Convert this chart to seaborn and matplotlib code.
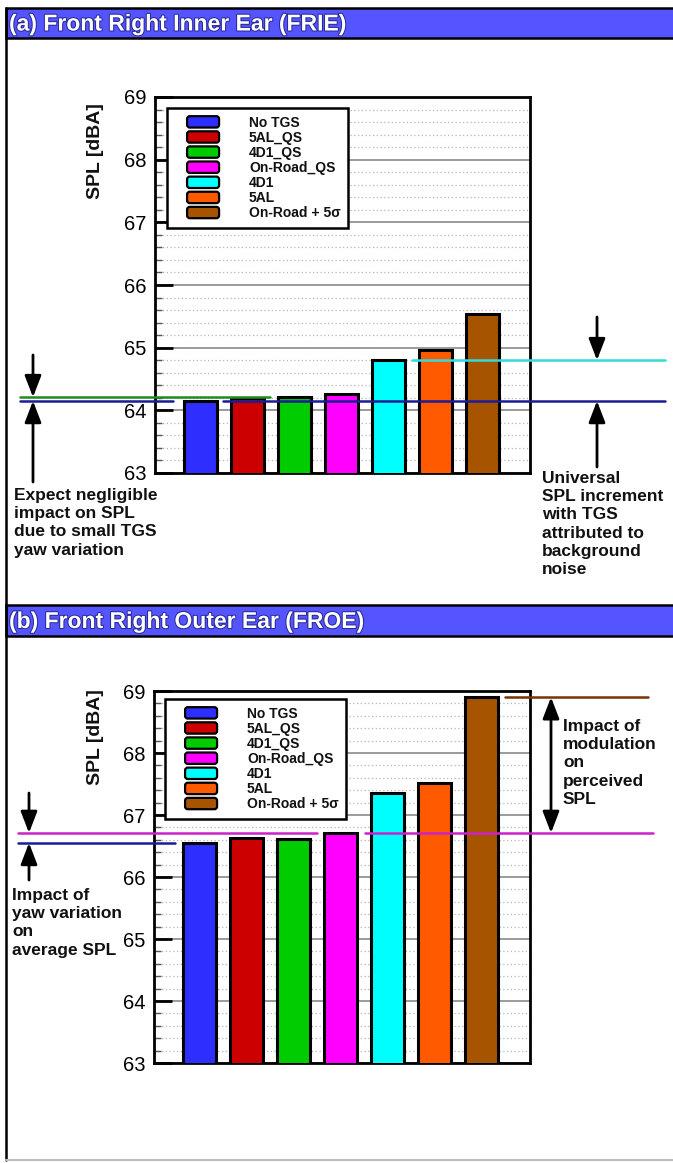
import matplotlib
matplotlib.use("Agg")
import numpy as np
import pandas as pd
import matplotlib.pyplot as plt
import seaborn as sns
from matplotlib.patches import Rectangle, Patch, FancyBboxPatch
from matplotlib.lines import Line2D
from matplotlib.legend_handler import HandlerBase
from matplotlib.transforms import blended_transform_factory
from matplotlib.ticker import MultipleLocator
import matplotlib.patheffects as pe

# ---- data -------------------------------------------------------------
configs = ["No TGS", "5AL_QS", "4D1_QS", "On-Road_QS", "4D1", "5AL", "On-Road + 5σ"]
bar_colors = ["#2E2EFF", "#CC0000", "#00CC00", "#FF00FF", "#00FFFF", "#FF5A00", "#A65400"]
spl_frie = [64.15, 64.19, 64.21, 64.26, 64.80, 64.97, 65.54]
spl_froe = [66.55, 66.63, 66.61, 66.71, 67.35, 67.52, 68.90]
y_ticks = [63, 64, 65, 66, 67, 68, 69]
panel_titles = ["(a) Front Right Inner Ear (FRIE)", "(b) Front Right Outer Ear (FROE)"]
note_frie_left = "Expect negligible\nimpact on SPL\ndue to small TGS\nyaw variation"
note_frie_right = "Universal\nSPL increment\nwith TGS\nattributed to\nbackground\nnoise"
note_froe_left = "Impact of\nyaw variation\non\naverage SPL"
note_froe_right = "Impact of\nmodulation\non\nperceived\nSPL"

# ---- figure setup -------------------------------------------------------
sns.set_theme(style="white")
plt.rcParams["font.family"] = ["Liberation Sans", "DejaVu Sans"]

W, H = 673, 1163
fig = plt.figure(figsize=(W / 100, H / 100), dpi=100)


def fx(px):
    return px / W


def fy(py):
    return 1 - py / H


palette = dict(zip(configs, bar_colors))


class SwatchHandler(HandlerBase):
    """Rounded colour swatch, inset from the left edge of the handle box."""

    def create_artists(self, legend, orig_handle, xdescent, ydescent,
                       width, height, fontsize, trans):
        inset = width * 0.28
        sw = width - inset
        sh = height * 0.95
        patch = FancyBboxPatch((inset - xdescent, -ydescent + (height - sh) / 2), sw, sh,
                               boxstyle="round,pad=0,rounding_size=2",
                               facecolor=orig_handle.get_facecolor(),
                               edgecolor="black", lw=1.6, transform=trans)
        return [patch]


def draw_panel(box, values, legend_xy):
    x0, y0, x1, y1 = box
    ax = fig.add_axes([fx(x0), fy(y1), (x1 - x0) / W, (y1 - y0) / H])
    df = pd.DataFrame({"config": configs, "spl": values})
    sns.barplot(data=df, x="config", y="spl", hue="config", palette=palette,
                order=configs, hue_order=configs, dodge=False, width=0.7,
                saturation=1, edgecolor="black", linewidth=2.2, legend=False,
                ax=ax, zorder=3)
    ax.set_ylim(63, 69)
    ax.set_xlim(-0.96, 7.02)
    ax.set_xticks([])
    ax.set_xlabel("")
    ax.set_ylabel("")
    ax.set_yticks(y_ticks)
    ax.yaxis.set_minor_locator(MultipleLocator(0.2))
    ax.grid(which="major", axis="y", color="#8a8a8a", lw=1.2, ls="-")
    ax.grid(which="minor", axis="y", color="#b5b5b5", lw=0.9, ls=(0, (1, 2)))
    ax.set_axisbelow(True)
    ax.tick_params(axis="y", which="major", direction="in", length=13, width=2,
                   color="black", labelsize=14.5, pad=6, left=True, labelcolor="black")
    ax.tick_params(axis="y", which="minor", direction="in", length=5, width=1,
                   color="#555555", left=True)
    for s in ax.spines.values():
        s.set_visible(True)
        s.set_color("black")
        s.set_linewidth(2)

    handles = [Patch(facecolor=c, edgecolor="black", label=l)
               for c, l in zip(bar_colors, configs)]
    leg = ax.legend(handles=handles, loc="upper left",
                    bbox_to_anchor=(fx(legend_xy[0]), fy(legend_xy[1])),
                    bbox_transform=fig.transFigure, frameon=True, fancybox=False,
                    edgecolor="black", framealpha=1,
                    prop={"weight": "bold", "size": 10},
                    handler_map={Patch: SwatchHandler()},
                    handlelength=3.2, handleheight=0.95, handletextpad=2.15,
                    labelspacing=0.08, borderpad=0.55, borderaxespad=0)
    leg.get_frame().set_linewidth(1.8)
    for t in leg.get_texts():
        t.set_color("#111111")
    leg.set_zorder(6)
    return ax


def hline(ax, value, xa, xb, color):
    tr = blended_transform_factory(fig.transFigure, ax.transData)
    ax.add_line(Line2D([fx(xa), fx(xb)], [value, value], transform=tr, color=color,
                       lw=1.8, clip_on=False, zorder=7))


ARROW = dict(color="black", lw=2, shrinkA=0, shrinkB=0, mutation_scale=20)


def arrow_to(ax, x, tail_py, value):
    tr = blended_transform_factory(fig.transFigure, ax.transData)
    ax.annotate("", xy=(fx(x), value), xycoords=tr,
                xytext=(fx(x), fy(tail_py)), textcoords="figure fraction",
                arrowprops=dict(arrowstyle="-|>,head_length=0.65,head_width=0.25", **ARROW),
                annotation_clip=False)


def arrow_between(ax, x, v_top, v_bot):
    tr = blended_transform_factory(fig.transFigure, ax.transData)
    ax.annotate("", xy=(fx(x), v_top), xycoords=tr,
                xytext=(fx(x), v_bot), textcoords=tr,
                arrowprops=dict(arrowstyle="<|-|>,head_length=0.65,head_width=0.25", **ARROW),
                annotation_clip=False)


def note(px, py, text):
    fig.text(fx(px), fy(py), text, ha="left", va="top", fontsize=12.5,
             weight="bold", color="#111111", linespacing=1.27)


def title_bar(py0, py1, text):
    fig.add_artist(Rectangle((fx(6), fy(py1)), fx(700) - fx(6), (py1 - py0) / H,
                             transform=fig.transFigure, facecolor="#5555FF",
                             edgecolor="black", lw=1.8, clip_on=False))
    fig.text(fx(9), fy((py0 + py1) / 2 + 1), text, ha="left", va="center",
             fontsize=16.5, weight="bold", color="white",
             path_effects=[pe.withStroke(linewidth=1.5, foreground="#2a2a9a")])


# ---- frame around both panels ------------------------------------------
fig.add_artist(Line2D([fx(6), fx(6)], [fy(8), fy(1160)], transform=fig.transFigure,
                      color="black", lw=1.8))
fig.add_artist(Line2D([fx(6), fx(673)], [fy(1160), fy(1160)], transform=fig.transFigure,
                      color="#bdbdbd", lw=1.5))

# ---- panel (a): inner ear ------------------------------------------------
title_bar(8, 38, panel_titles[0])
ax_a = draw_panel((155, 97, 530, 473), spl_frie, (167, 108))
fig.text(fx(95), fy(151), "SPL [dBA]", rotation=90, ha="center", va="center",
         fontsize=14, weight="bold", color="#111111")

hline(ax_a, spl_frie[2], 20, 270, "#1E8C1E")
hline(ax_a, spl_frie[0], 20, 173, "#1C1C96")
hline(ax_a, spl_frie[0], 223, 665, "#1C1C96")
hline(ax_a, spl_frie[4], 412, 665, "#30DCDC")
arrow_to(ax_a, 33, 355, spl_frie[2])
arrow_to(ax_a, 33, 482, spl_frie[0])
arrow_to(ax_a, 597, 317, spl_frie[4])
arrow_to(ax_a, 597, 467, spl_frie[0])
note(14, 488, note_frie_left)
note(542, 471, note_frie_right)

# ---- panel (b): outer ear ------------------------------------------------
title_bar(605, 636, panel_titles[1])
ax_b = draw_panel((154, 691, 530, 1063), spl_froe, (165, 699))
fig.text(fx(95), fy(737), "SPL [dBA]", rotation=90, ha="center", va="center",
         fontsize=14, weight="bold", color="#111111")

hline(ax_b, spl_froe[3], 18, 317, "#CC22CC")
hline(ax_b, spl_froe[3], 365, 653, "#CC22CC")
hline(ax_b, spl_froe[0], 18, 175, "#1C1C96")
hline(ax_b, spl_froe[6], 505, 648, "#7A3300")
arrow_to(ax_b, 29, 793, spl_froe[3])
arrow_to(ax_b, 29, 880, spl_froe[0])
arrow_between(ax_b, 551, spl_froe[6], spl_froe[3])
note(12, 888, note_froe_left)
note(563, 719, note_froe_right)

fig.savefig("out.png", dpi=100, facecolor="white")
